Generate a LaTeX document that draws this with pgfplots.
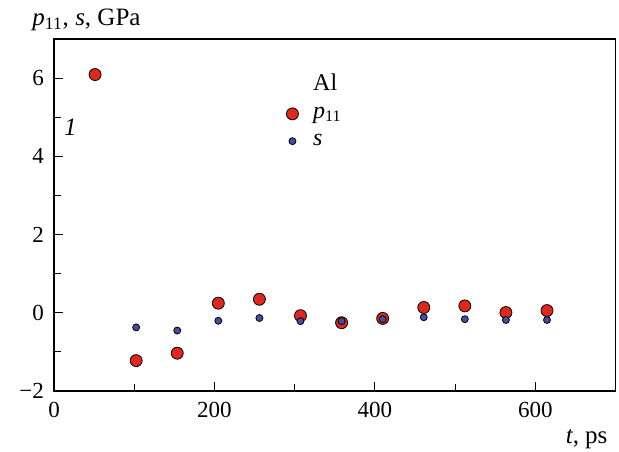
\documentclass[border=0pt]{standalone}
\usepackage{fontspec}
\setmainfont{Liberation Serif}
\usepackage{pgfplots}
\pgfplotsset{compat=1.18}
\definecolor{pred}{RGB}{222,40,30}
\definecolor{sblue}{RGB}{70,75,165}
\begin{document}
\begin{tikzpicture}
\useasboundingbox (-27pt,-30.15pt) rectangle (282.5pt,195.35pt);
\begin{axis}[
  at={(0,0)}, anchor=south west,
  scale only axis, width=280.85pt, height=175.85pt,
  xmin=0, xmax=700, ymin=-2, ymax=7,
  axis line style={line width=0.8pt},
  xtick={0,200,400,600}, xticklabels={0,200,400,600},
  minor xtick={100,300,500},
  ytick={-2,0,2,4,6}, yticklabels={−2,0,2,4,6},
  minor ytick={-1,1,3,5},
  tick align=inside, xtick pos=bottom, ytick pos=left,
  major tick length=4.5pt, minor tick length=3.3pt,
  tick style={black, line width=0.5pt},
  xticklabel style={yshift=-2pt},
  yticklabel style={xshift=-1.5pt},
  ticklabel style={font=\fontsize{11.5}{13}\selectfont},
  clip=false,
  legend style={draw=none, fill=none, at={(axis cs:282,6.19)}, anchor=north west,
    font=\fontsize{12}{14}\selectfont, row sep=3.5pt, inner sep=0pt,
    nodes={inner sep=1.5pt}},
  legend cell align=left,
  legend image code/.code={\path (-0.2cm,0) (0.305cm,0); \draw plot coordinates {(0cm,0cm)};},
]
\addlegendimage{empty legend}
\addlegendentry{Al}
\addplot[only marks, mark=*, mark size=3pt, mark options={fill=pred, draw=black, line width=0.4pt}]
  coordinates {(51.2,6.09) (102.4,-1.23) (153.6,-1.04) (204.8,0.24) (256,0.34) (307.2,-0.08)
  (358.4,-0.26) (409.6,-0.15) (460.8,0.13) (512,0.17) (563.2,0.0) (614.4,0.05)};
\addlegendentry{\textit{p}\textsubscript{11}}
\addplot[only marks, mark=*, mark size=1.75pt, mark options={fill=sblue, draw=black, line width=0.4pt}]
  coordinates {(102.4,-0.38) (153.6,-0.46) (204.8,-0.21) (256,-0.14) (307.2,-0.22) (358.4,-0.22)
  (409.6,-0.17) (460.8,-0.12) (512,-0.17) (563.2,-0.19) (614.4,-0.19)};
\addlegendentry{\textit{s}}
\node[anchor=base west, inner sep=0pt, font=\fontsize{12.5}{14}\selectfont\itshape] at (axis cs:12,4.52) {1};
\node[anchor=base west, inner sep=0pt, font=\fontsize{12.5}{14}\selectfont] at ([xshift=-11pt,yshift=6.5pt]rel axis cs:0,1) {\textit{p}\textsubscript{11}, \textit{s}, GPa};
\node[anchor=base east, inner sep=0pt, font=\fontsize{12.5}{14}\selectfont] at ([xshift=-3.9pt,yshift=-26.3pt]rel axis cs:1,0) {\textit{t}, ps};
\end{axis}
\end{tikzpicture}
\end{document}
